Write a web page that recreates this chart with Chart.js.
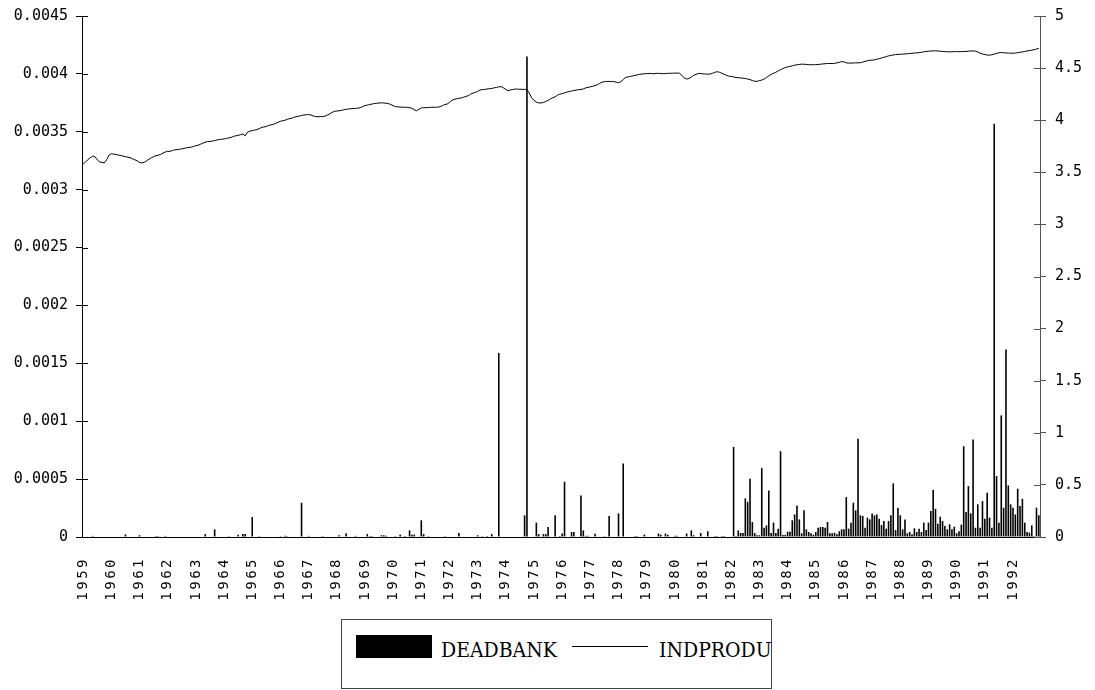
<!DOCTYPE html>
<html>
<head>
<meta charset="utf-8">
<script src="https://cdn.jsdelivr.net/npm/chart.js@4.4.1/dist/chart.umd.min.js"></script>
<style>
  body { margin: 0; background: #fff; }
  #wrap { position: relative; width: 1095px; height: 690px; overflow: hidden; }
  #grafica { position: absolute; left: 0; top: -2px; }
  #legend { position: absolute; left: 341px; top: 619px; width: 429px; height: 68px; border: 1px solid #444; }
  #legend .box { position: absolute; left: 14px; top: 15px; width: 76px; height: 23px; background: #000; }
  #legend .line { position: absolute; left: 230px; top: 26px; width: 76px; height: 1px; background: #000; }
  #legend span { position: absolute; top: 17px; font-family: "DejaVu Serif", serif; font-stretch: condensed; font-size: 21px; color: #000; line-height: 27px; }
</style>
</head>
<body>
<div id="wrap">
  <canvas id="grafica" width="1095" height="612"></canvas>
  <div id="legend">
    <div class="box"></div><span style="left:99px">DEADBANK</span>
    <div class="line"></div><span style="left:317px">INDPRODU</span>
  </div>
</div>
<script>
// años del eje x (datos mensuales 1959:01 - 1992:12)
const years = [1959, 1960, 1961, 1962, 1963, 1964, 1965, 1966, 1967, 1968, 1969, 1970,
  1971, 1972, 1973, 1974, 1975, 1976, 1977, 1978, 1979, 1980, 1981, 1982, 1983, 1984,
  1985, 1986, 1987, 1988, 1989, 1990, 1991, 1992];

// DEADBANK, eje izquierdo (una fila por año)
const deadbank = [
  0, 0, 0, 0, 1e-5, 0, 0, 0, 0, 0, 0, 0,
  0, 0, 0, 0, 0, 0, 2.3e-5, 0, 0, 0, 0, 0,
  1.5e-5, 0, 0, 0, 0, 0, 0, 8e-6, 8e-6, 0, 0, 1e-5,
  0, 0, 0, 0, 0, 0, 0, 0, 0, 0, 0, 0,
  0, 0, 0, 0, 2.5e-5, 0, 0, 0, 6.6e-5, 0, 0, 0,
  0, 0, 8e-6, 0, 0, 0, 2e-5, 0, 2.5e-5, 2.5e-5, 0, 0,
  1.72e-4, 0, 0, 8e-6, 0, 0, 0, 0, 0, 0, 0, 0,
  8e-6, 0, 1e-5, 8e-6, 0, 0, 0, 0, 0, 2.96e-4, 0, 0,
  1e-5, 0, 0, 0, 0, 0, 8e-6, 0, 0, 0, 0, 0,
  0, 1.5e-5, 0, 0, 3.2e-5, 0, 0, 0, 1e-5, 0, 0, 0,
  0, 2.5e-5, 8e-6, 8e-6, 0, 0, 0, 1.5e-5, 1.5e-5, 1e-5, 0, 0,
  0, 8e-6, 0, 2e-5, 0, 8e-6, 0, 5.7e-5, 2e-5, 2e-5, 0, 0,
  1.44e-4, 2.5e-5, 0, 8e-6, 0, 0, 0, 0, 0, 0, 8e-6, 0,
  0, 0, 0, 0, 3.5e-5, 0, 0, 0, 0, 0, 0, 0,
  1.5e-5, 0, 8e-6, 0, 8e-6, 0, 2.5e-5, 0, 0, 1.59e-3, 0, 0,
  0, 0, 0, 0, 0, 0, 0, 0, 1.87e-4, 4.15e-3, 0, 0,
  0, 1.24e-4, 2.5e-5, 0, 2.5e-5, 2.5e-5, 8.6e-5, 0, 0, 1.87e-4, 0, 8e-6,
  3e-5, 4.77e-4, 0, 0, 4.3e-5, 4.3e-5, 0, 0, 3.59e-4, 5.7e-5, 1e-5, 1e-5,
  0, 0, 2.9e-5, 0, 0, 0, 8e-6, 0, 1.81e-4, 0, 0, 0,
  2.04e-4, 0, 6.35e-4, 0, 0, 0, 0, 8e-6, 8e-6, 0, 0, 2e-5,
  0, 0, 0, 0, 0, 3e-5, 2e-5, 0, 3e-5, 2e-5, 0, 0,
  1e-5, 1e-5, 0, 0, 0, 3e-5, 0, 5.7e-5, 1.5e-5, 0, 0, 3.4e-5,
  0, 0, 4.9e-5, 0, 0, 8e-6, 8e-6, 0, 8e-6, 8e-6, 0, 0,
  0, 7.78e-4, 8e-6, 5.7e-5, 3.5e-5, 3.5e-5, 3.33e-4, 3.04e-4, 5.03e-4, 1.29e-4, 3.4e-5, 1.5e-5,
  1.5e-5, 5.95e-4, 8e-5, 1e-4, 4.02e-4, 3.5e-5, 1.24e-4, 3.5e-5, 7.2e-5, 7.41e-4, 1.8e-5, 1.8e-5,
  4.6e-5, 4.6e-5, 1.44e-4, 1.95e-4, 2.73e-4, 1.52e-4, 3.2e-5, 2.3e-4, 6.6e-5, 4.3e-5, 3.2e-5, 2e-5,
  4.3e-5, 8e-5, 8.6e-5, 8.6e-5, 8e-5, 1.29e-4, 3.2e-5, 3.2e-5, 3.7e-5, 2.3e-5, 4.9e-5, 6.6e-5,
  6.6e-5, 3.45e-4, 7.2e-5, 1.24e-4, 2.96e-4, 2.3e-4, 8.48e-4, 1.87e-4, 1.81e-4, 8e-5, 1.67e-4, 1.52e-4,
  2.04e-4, 1.87e-4, 1.95e-4, 1.58e-4, 1.03e-4, 1.38e-4, 7.2e-5, 1.38e-4, 1.87e-4, 4.63e-4, 6e-5, 2.53e-4,
  1.87e-4, 6.6e-5, 1.52e-4, 3.2e-5, 4.3e-5, 2.3e-5, 7.5e-5, 4.3e-5, 7.2e-5, 4.3e-5, 1.24e-4, 6e-5,
  1.24e-4, 2.24e-4, 4.05e-4, 2.44e-4, 1.15e-4, 1.75e-4, 1.38e-4, 9.5e-5, 6.6e-5, 1.09e-4, 6.6e-5, 8.9e-5,
  3.2e-5, 4.9e-5, 1.06e-4, 7.84e-4, 2.15e-4, 4.4e-4, 2.04e-4, 8.42e-4, 8e-5, 2.82e-4, 8e-5, 3.1e-4,
  1.58e-4, 3.82e-4, 1.67e-4, 8e-5, 3.57e-3, 5.26e-4, 1.24e-4, 1.05e-3, 2.53e-4, 1.62e-3, 4.45e-4, 2.82e-4,
  2.53e-4, 1.95e-4, 4.17e-4, 2.67e-4, 3.3e-4, 1.24e-4, 4.3e-5, 3.7e-5, 1e-4, 9e-6, 2.53e-4, 1.87e-4
];

// INDPRODU, eje derecho
const indprodu = [
  3.58, 3.60, 3.62, 3.64, 3.655, 3.65, 3.62, 3.60, 3.595, 3.59, 3.62, 3.665,
  3.678, 3.675, 3.67, 3.665, 3.662, 3.655, 3.65, 3.645, 3.64, 3.63, 3.62, 3.61,
  3.595, 3.59, 3.595, 3.61, 3.625, 3.64, 3.65, 3.66, 3.665, 3.67, 3.685, 3.695,
  3.703, 3.70, 3.71, 3.715, 3.718, 3.72, 3.725, 3.73, 3.735, 3.738, 3.742, 3.748,
  3.755, 3.76, 3.77, 3.78, 3.79, 3.795, 3.795, 3.80, 3.805, 3.81, 3.815, 3.817,
  3.82, 3.825, 3.83, 3.835, 3.845, 3.85, 3.855, 3.86, 3.868, 3.85, 3.885, 3.895,
  3.90, 3.905, 3.91, 3.92, 3.93, 3.935, 3.94, 3.95, 3.955, 3.96, 3.97, 3.98,
  3.99, 3.995, 4.00, 4.01, 4.015, 4.02, 4.03, 4.035, 4.04, 4.045, 4.05, 4.052,
  4.054, 4.05, 4.04, 4.035, 4.033, 4.035, 4.034, 4.04, 4.05, 4.06, 4.075, 4.085,
  4.088, 4.09, 4.095, 4.10, 4.105, 4.108, 4.11, 4.112, 4.113, 4.115, 4.12, 4.13,
  4.14, 4.145, 4.15, 4.155, 4.16, 4.162, 4.165, 4.167, 4.165, 4.163, 4.16, 4.15,
  4.14, 4.13, 4.128, 4.126, 4.125, 4.124, 4.123, 4.12, 4.115, 4.10, 4.09, 4.105,
  4.118, 4.12, 4.12, 4.122, 4.123, 4.125, 4.124, 4.125, 4.13, 4.14, 4.15, 4.155,
  4.17, 4.19, 4.20, 4.205, 4.21, 4.213, 4.22, 4.228, 4.235, 4.25, 4.26, 4.267,
  4.275, 4.29, 4.293, 4.295, 4.30, 4.302, 4.305, 4.31, 4.315, 4.32, 4.322, 4.31,
  4.295, 4.283, 4.29, 4.295, 4.299, 4.298, 4.297, 4.296, 4.296, 4.295, 4.26, 4.215,
  4.19, 4.175, 4.165, 4.166, 4.17, 4.18, 4.19, 4.205, 4.215, 4.225, 4.24, 4.25,
  4.255, 4.262, 4.27, 4.275, 4.28, 4.285, 4.29, 4.292, 4.295, 4.30, 4.31, 4.315,
  4.32, 4.326, 4.332, 4.34, 4.355, 4.365, 4.37, 4.372, 4.372, 4.372, 4.37, 4.365,
  4.36, 4.37, 4.39, 4.41, 4.415, 4.42, 4.425, 4.43, 4.435, 4.44, 4.443, 4.446,
  4.447, 4.448, 4.448, 4.445, 4.449, 4.45, 4.448, 4.447, 4.448, 4.45, 4.45, 4.451,
  4.452, 4.452, 4.45, 4.43, 4.405, 4.395, 4.40, 4.415, 4.43, 4.44, 4.448, 4.448,
  4.445, 4.443, 4.442, 4.443, 4.45, 4.46, 4.465, 4.46, 4.45, 4.44, 4.43, 4.423,
  4.42, 4.415, 4.41, 4.408, 4.405, 4.404, 4.40, 4.395, 4.39, 4.38, 4.375, 4.372,
  4.38, 4.385, 4.395, 4.41, 4.425, 4.44, 4.45, 4.46, 4.474, 4.485, 4.495, 4.505,
  4.512, 4.516, 4.522, 4.528, 4.532, 4.535, 4.538, 4.537, 4.535, 4.533, 4.532, 4.533,
  4.532, 4.535, 4.537, 4.54, 4.542, 4.544, 4.544, 4.544, 4.545, 4.55, 4.555, 4.563,
  4.56, 4.55, 4.548, 4.548, 4.549, 4.55, 4.551, 4.552, 4.558, 4.565, 4.57, 4.575,
  4.577, 4.579, 4.585, 4.59, 4.597, 4.603, 4.611, 4.617, 4.622, 4.626, 4.63, 4.632,
  4.633, 4.634, 4.636, 4.638, 4.64, 4.642, 4.645, 4.646, 4.648, 4.652, 4.656, 4.66,
  4.662, 4.664, 4.665, 4.666, 4.664, 4.662, 4.66, 4.658, 4.657, 4.656, 4.657, 4.658,
  4.658, 4.657, 4.659, 4.659, 4.66, 4.662, 4.664, 4.665, 4.663, 4.655, 4.643, 4.635,
  4.63, 4.626, 4.624, 4.628, 4.635, 4.642, 4.647, 4.649, 4.648, 4.645, 4.644, 4.643,
  4.643, 4.645, 4.648, 4.652, 4.656, 4.66, 4.665, 4.668, 4.672, 4.677, 4.683, 4.69
];

// etiquetas mensuales "1959:01" ...
const meses = [];
years.forEach(y => {
  for (let m = 1; m <= 12; m++) meses.push(y + ':' + String(m).padStart(2, '0'));
});

const fuenteY = { family: 'DejaVu Sans Mono', size: 15 };
const fuenteX = { family: 'DejaVu Sans Mono', size: 14 };

// marcas de los ejes y que cruzan el eje (hacia dentro)
const marcasCruzadas = {
  id: 'marcasCruzadas',
  afterDraw(chart) {
    const { ctx, chartArea } = chart;
    ctx.save();
    ctx.lineWidth = 1;
    ['y', 'y1'].forEach(id => {
      const s = chart.scales[id];
      ctx.strokeStyle = id === 'y' ? '#000' : '#555';
      s.ticks.forEach((t, i) => {
        const y = Math.round(s.getPixelForTick(i)) + 0.5;
        const x = id === 'y' ? chartArea.left : chartArea.right;
        ctx.beginPath();
        ctx.moveTo(x, y);
        ctx.lineTo(id === 'y' ? x + 6 : x - 6, y);
        ctx.stroke();
      });
    });
    ctx.restore();
  }
};

// años del eje x algo más espaciados, como en el original
const letrasAnchas = {
  id: 'letrasAnchas',
  beforeDraw(chart) {
    const s = chart.scales.x;
    if (!s || s._espaciado) return;
    const original = s.drawLabels.bind(s);
    s.drawLabels = function (area) {
      this.ctx.save();
      this.ctx.letterSpacing = '2.5px';
      original(area);
      this.ctx.restore();
      this.ctx.letterSpacing = '0px';
    };
    s._espaciado = true;
  }
};

const ctx = document.getElementById('grafica').getContext('2d');
new Chart(ctx, {
  type: 'bar',
  data: {
    labels: meses,
    datasets: [
      {
        type: 'line',
        label: 'INDPRODU',
        data: indprodu,
        yAxisID: 'y1',
        borderColor: '#000',
        borderWidth: 1,
        pointRadius: 0,
        tension: 0,
        order: 0
      },
      {
        label: 'DEADBANK',
        data: deadbank,
        yAxisID: 'y',
        backgroundColor: '#000',
        barPercentage: 0.68,
        categoryPercentage: 1,
        order: 1
      }
    ]
  },
  options: {
    responsive: false,
    animation: false,
    layout: { padding: { top: 13 } },
    plugins: { legend: { display: false }, tooltip: { enabled: false } },
    scales: {
      x: {
        grid: { display: false },
        border: { color: '#000' },
        ticks: {
          autoSkip: false,
          maxRotation: 90,
          minRotation: 90,
          padding: 12,
          color: '#000',
          font: fuenteX,
          callback: function (v, i) {
            return i % 12 === 0 ? this.getLabelForValue(v).slice(0, 4) : '';
          }
        },
        afterFit: s => { s.height = 612 - 539; }
      },
      y: {
        position: 'left',
        min: 0,
        max: 0.0045,
        grid: { drawOnChartArea: false, tickLength: 6, color: '#000' },
        border: { color: '#000' },
        ticks: {
          stepSize: 0.0005,
          padding: 8,
          color: '#000',
          font: fuenteY,
          callback: v => String(+v.toFixed(4))
        },
        afterFit: s => { s.width = 82; }
      },
      y1: {
        position: 'right',
        min: 0,
        max: 5,
        grid: { drawOnChartArea: false, tickLength: 6, color: '#555' },
        border: { color: '#555' },
        ticks: {
          stepSize: 0.5,
          padding: 9,
          color: '#000',
          font: fuenteY,
          callback: v => String(+v.toFixed(1))
        },
        afterFit: s => { s.width = 55; }
      }
    }
  },
  plugins: [marcasCruzadas, letrasAnchas]
});
</script>
</body>
</html>
